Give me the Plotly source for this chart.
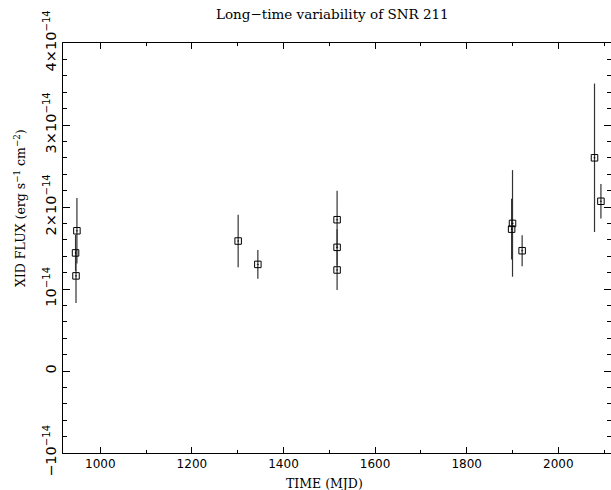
import plotly.graph_objects as go

# Data (flux in units of 1e-14 erg s^-1 cm^-2)
mjd = [949, 946, 947, 1301, 1344, 1517, 1517, 1517, 1900, 1898, 1921, 2079, 2093]
flux = [1.71, 1.44, 1.16, 1.585, 1.30, 1.845, 1.508, 1.232, 1.80, 1.73, 1.467, 2.60, 2.07]
flux_err = [0.40, 0.22, 0.33, 0.32, 0.175, 0.354, 0.22, 0.244, 0.65, 0.37, 0.19, 0.905, 0.21]

ytick_vals = [-1, 0, 1, 2, 3, 4]
ytick_text = ["−10<sup>−14</sup>", "0", "10<sup>−14</sup>", "2×10<sup>−14</sup>",
              "3×10<sup>−14</sup>", "4×10<sup>−14</sup>"]
xtick_vals = [1000, 1200, 1400, 1600, 1800, 2000]

serif = "DejaVu Serif"
sans = "DejaVu Sans"

fig = go.Figure()
fig.add_trace(go.Scatter(
    x=mjd, y=flux, mode="markers",
    marker=dict(symbol="square-open-dot", size=6.5, color="black", line=dict(width=1, color="black")),
    error_y=dict(type="data", array=flux_err, visible=True, width=0, thickness=1.2, color="#333333"),
    showlegend=False,
))

fig.update_layout(
    width=611, height=490,
    margin=dict(l=63, r=0, t=43, b=37),
    paper_bgcolor="white", plot_bgcolor="white",
    font=dict(family=sans, size=12, color="black"),
    xaxis=dict(
        range=[918.6, 2115], showgrid=False, zeroline=False,
        showline=True, linecolor="black", linewidth=1, mirror="ticks",
        ticks="inside", ticklen=6, tickcolor="black",
        tickvals=xtick_vals, tickfont=dict(family=sans, size=12),
        minor=dict(dtick=100, tick0=0, ticks="inside", ticklen=3, tickcolor="black"),
    ),
    yaxis=dict(
        range=[-1, 4], showgrid=False, zeroline=False,
        showline=True, linecolor="black", linewidth=1, mirror="ticks",
        ticks="inside", ticklen=7, tickcolor="black",
        tickvals=ytick_vals, ticktext=ytick_text, tickangle=-90,
        tickfont=dict(family=sans, size=14.5),
        minor=dict(dtick=0.2, tick0=0, ticks="inside", ticklen=4, tickcolor="black"),
    ),
    annotations=[
        dict(text="Long−time variability of SNR 211", xref="paper", yref="paper",
             x=0.491, y=1.0707, xanchor="center", yanchor="middle", showarrow=False,
             font=dict(family=serif, size=13.5)),
        dict(text="TIME (MJD)", xref="paper", yref="paper",
             x=0.478, y=-0.0756, xanchor="center", yanchor="middle", showarrow=False,
             font=dict(family=serif, size=12.5)),
        dict(text="XID FLUX (erg s<sup>−1</sup> cm<sup>−2</sup>)", xref="paper", yref="paper",
             x=-0.0785, y=0.5976, xanchor="center", yanchor="middle", showarrow=False,
             textangle=-90, font=dict(family=serif, size=12.5)),
    ],
)

fig.write_html("out.html")
